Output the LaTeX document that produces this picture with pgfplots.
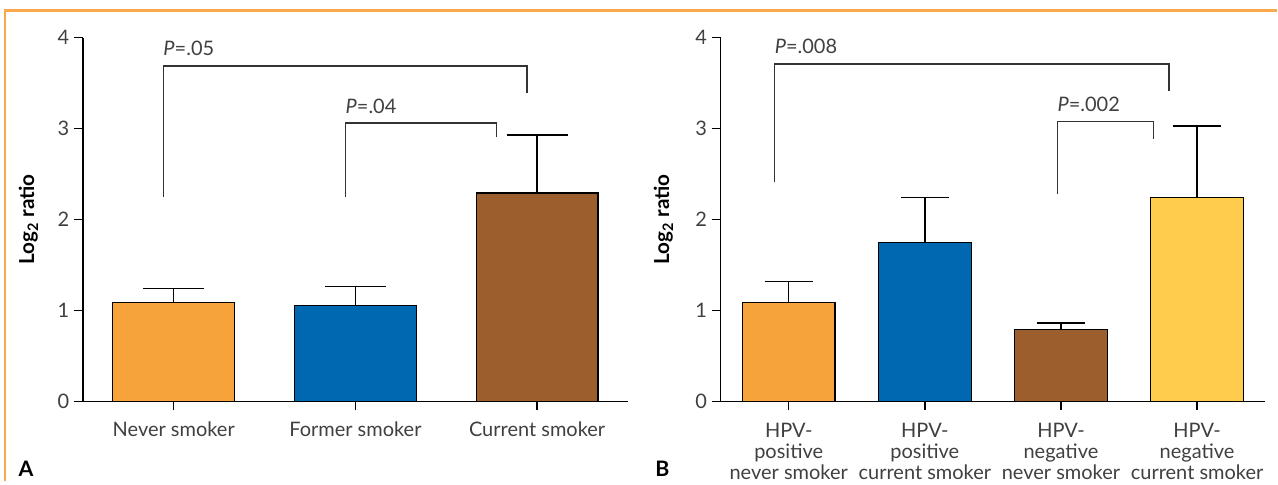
\documentclass[border=0pt]{standalone}
\usepackage{pgfplots}
\pgfplotsset{compat=1.18}
\usepackage{fontspec}
\setmainfont{Lato}
\setsansfont{Lato}
\definecolor{frameorange}{HTML}{F9A94B}
\definecolor{cOrange}{HTML}{F7A33C}
\definecolor{cBlue}{HTML}{0068B0}
\definecolor{cBrown}{HTML}{9C5E2D}
\definecolor{cYellow}{HTML}{FFCC4E}
\definecolor{txt}{HTML}{404040}
\pgfplotsset{
  mybar/.style={
    scale only axis, height=273pt, ymin=0, ymax=4, ytick={0,1,2,3,4},
    axis x line*=bottom, axis y line*=left,
    axis line style={-, line width=1pt, black},
    tick style={black, line width=1pt}, major tick length=6.75pt,
    tick align=outside,
    ticklabel style={font=\fontsize{15}{16}\selectfont, text=txt},
    /pgf/number format/assume math mode=true,
    every axis y label/.style={at={(axis description cs:-0.1,0.5)}, rotate=90, anchor=center, font=\fontsize{15.5}{17}\selectfont\bfseries},
    ylabel={Log\textsubscript{2} ratio},
    clip=false,
  },
  bb/.style={ybar, bar shift=0pt, draw=black, line width=1pt,
    error bars/y dir=plus, error bars/y explicit,
    error bars/error bar style={black, line width=1pt}},
}
\tikzset{bracket/.style={draw=black!80, line width=1pt},
  plab/.style={anchor=base west, inner sep=0pt, text=txt, font=\fontsize{15}{16}\selectfont}}
\begin{document}
\begin{tikzpicture}
\path (0pt,0pt) rectangle (958.5pt,361.5pt);
\draw[frameorange, line width=2pt] (3.75pt,0pt) -- (3.75pt,353.6pt) -- (958.5pt,353.6pt);
% Panel A
\begin{axis}[mybar, at={(62.25pt,60.2pt)}, anchor=south west, width=409.2pt,
  xmin=-0.5, xmax=2.5, xtick={0,1,2},
  xticklabels={Never smoker, Former smoker, Current smoker},
  xticklabel style={yshift=-5pt},
  bar width=91.5pt,
  error bars/error mark options={black, line width=1pt, mark size=22.9pt, rotate=90}]
\addplot[bb, fill=cOrange] coordinates {(0,1.088) +- (0,0.152)};
\addplot[bb, fill=cBlue] coordinates {(1,1.055) +- (0,0.205)};
\addplot[bb, fill=cBrown] coordinates {(2,2.29) +- (0,0.64)};
\draw[bracket] (axis cs:-0.058,2.25) -- (axis cs:-0.058,3.69) -- (axis cs:1.945,3.69) -- (axis cs:1.945,3.39);
\node[plab] at (axis cs:-0.058,3.80) {\textit{P}=.05};
\draw[bracket] (axis cs:0.945,2.25) -- (axis cs:0.945,3.06) -- (axis cs:1.775,3.06) -- (axis cs:1.775,2.905);
\node[plab] at (axis cs:0.945,3.17) {\textit{P}=.04};
\end{axis}
% Panel B
\begin{axis}[mybar, at={(541.05pt,60.2pt)}, anchor=south west, width=408.8pt,
  xmin=-0.5, xmax=3.5, xtick={0,1,2,3},
  xticklabels={{HPV-\\positive\\never smoker}, {HPV-\\positive\\current smoker}, {HPV-\\negative\\never smoker}, {HPV-\\negative\\current smoker}},
  xticklabel style={align=center, font=\fontsize{15}{15.75}\selectfont, yshift=-6.5pt},
  every axis y label/.append style={at={(axis description cs:-0.105,0.5)}},
  bar width=69.6pt,
  error bars/error mark options={black, line width=1pt, mark size=18pt, rotate=90}]
\addplot[bb, fill=cOrange] coordinates {(0,1.085) +- (0,0.235)};
\addplot[bb, fill=cBlue] coordinates {(1,1.745) +- (0,0.495)};
\addplot[bb, fill=cBrown] coordinates {(2,0.79) +- (0,0.07)};
\addplot[bb, fill=cYellow] coordinates {(3,2.24) +- (0,0.79)};
\draw[bracket] (axis cs:-0.104,2.415) -- (axis cs:-0.104,3.71) -- (axis cs:2.794,3.71) -- (axis cs:2.794,3.415);
\node[plab] at (axis cs:-0.104,3.83) {\textit{P}=.008};
\draw[bracket] (axis cs:1.973,2.28) -- (axis cs:1.973,3.075) -- (axis cs:2.68,3.075) -- (axis cs:2.68,2.89);
\node[plab] at (axis cs:1.973,3.185) {\textit{P}=.002};
\end{axis}
\node[font=\fontsize{16}{18}\selectfont\bfseries] at (19.5pt,9.4pt) {A};
\node[font=\fontsize{16}{18}\selectfont\bfseries] at (497.25pt,9.4pt) {B};
\end{tikzpicture}
\end{document}
